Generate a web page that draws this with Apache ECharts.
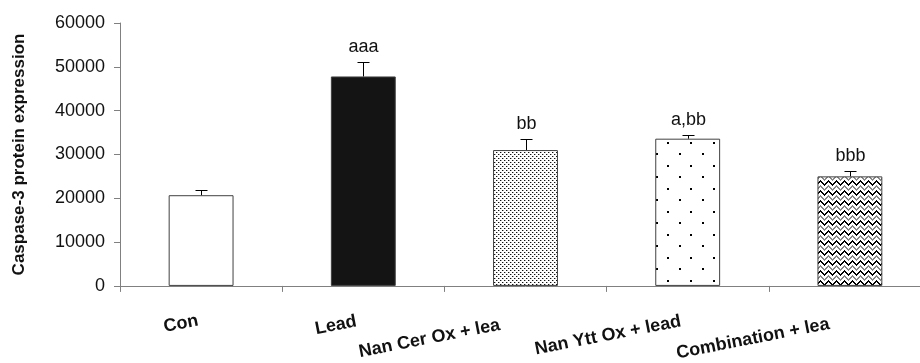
<!DOCTYPE html>
<html>
<head>
<meta charset="utf-8">
<script src="https://cdn.jsdelivr.net/npm/echarts@6/dist/echarts.min.js"></script>
<style>
  html, body { margin: 0; padding: 0; background: #fff; overflow: hidden; }
  /* the original axis runs a little past the right edge of the picture */
  #chart { width: 931px; height: 363px; }
</style>
</head>
<body>
<div id="chart"></div>
<script>
// values
const categories = ['Con', 'Lead', 'Nan Cer Ox + lea', 'Nan Ytt Ox + lead', 'Combination + lea'];
const means = [20700, 47800, 31000, 33600, 25000];
const upper = [22000, 51200, 33600, 34500, 26300];
const marks = ['', 'aaa', 'bb', 'a,bb', 'bbb'];
const yTicks = [0, 10000, 20000, 30000, 40000, 50000, 60000];

// label shift along the text so it sits like the original
const labelPad = [3, 7, 26, 7, 21];

function tile(w, h, draw) {
  const c = document.createElement('canvas');
  c.width = w; c.height = h;
  const ctx = c.getContext('2d');
  ctx.fillStyle = '#fff';
  ctx.fillRect(0, 0, w, h);
  draw(ctx);
  return c;
}

// fine dots
const fineDots = tile(4, 4, ctx => {
  ctx.fillStyle = '#111';
  ctx.fillRect(0, 0, 1, 1);
  ctx.fillRect(2, 2, 1, 1);
  ctx.fillStyle = '#aaa';
  ctx.fillRect(1, 0, 1, 1);
  ctx.fillRect(3, 2, 1, 1);
});

// sparse dots
const sparseDots = tile(23, 23, ctx => {
  ctx.fillStyle = '#000';
  ctx.fillRect(0, 4, 2, 2);
  ctx.fillRect(12, 15, 2, 2);
});

// zigzag weave, drawn pixel by pixel
const weave = tile(8, 10, ctx => {
  for (let x = 0; x < 8; x++) {
    const y = Math.abs(x - 4);
    ctx.fillStyle = '#000';
    ctx.fillRect(x, y, 1, 1);
    ctx.fillRect(x, (y + 1) % 10, 1, 1);
    ctx.fillStyle = '#888';
    ctx.fillRect(x, (y + 5) % 10, 1, 1);
    ctx.fillRect(x, (y + 6) % 10, 1, 1);
  }
});

const fills = [
  '#ffffff',
  '#141414',
  { image: fineDots, repeat: 'repeat' },
  { image: sparseDots, repeat: 'repeat' },
  { image: weave, repeat: 'repeat' }
];

const chart = echarts.init(document.getElementById('chart'), null, { renderer: 'canvas' });

const font = '"Liberation Sans", Arial, sans-serif';

chart.setOption({
  animation: false,
  grid: { left: 120, top: 23, right: 0, bottom: 77 },
  xAxis: {
    type: 'category',
    data: categories.map((c, i) => ({
      value: c,
      textStyle: { padding: [0, labelPad[i], 0, 0] }
    })),
    axisLine: { lineStyle: { color: '#808080', width: 1 } },
    axisTick: { show: true, length: 6, lineStyle: { color: '#808080' } },
    axisLabel: {
      interval: 0,
      rotate: 11,
      margin: 34,
      fontFamily: font,
      fontWeight: 'bold',
      fontSize: 18,
      color: '#111'
    }
  },
  yAxis: {
    type: 'value',
    min: yTicks[0],
    max: yTicks[yTicks.length - 1],
    interval: 10000,
    name: 'Caspase-3 protein expression',
    nameLocation: 'middle',
    nameGap: 92,
    nameTextStyle: { fontFamily: font, fontWeight: 'bold', fontSize: 17, color: '#111' },
    axisLine: { show: true, lineStyle: { color: '#808080', width: 1 } },
    axisTick: { show: true, length: 6, lineStyle: { color: '#808080' } },
    splitLine: { show: false },
    axisLabel: {
      margin: 15,
      fontFamily: font,
      fontSize: 18,
      color: '#111',
      formatter: v => String(v)
    }
  },
  series: [
    {
      type: 'bar',
      barWidth: '40%',
      data: means.map((v, i) => ({
        value: v,
        itemStyle: { color: fills[i], borderColor: '#404040', borderWidth: 1 }
      }))
    },
    {
      type: 'custom',
      z: 5,
      data: means.map((v, i) => [i, v, upper[i]]),
      renderItem: (params, api) => {
        const lo = api.coord([api.value(0), api.value(1)]);
        const hi = api.coord([api.value(0), api.value(2)]);
        const x = Math.round(hi[0]) + 0.5;
        const y = Math.round(hi[1]) + 0.5;
        const st = { stroke: '#000', lineWidth: 1 };
        return {
          type: 'group',
          children: [
            { type: 'line', shape: { x1: x, y1: lo[1], x2: x, y2: y }, style: st },
            { type: 'line', shape: { x1: x - 6, y1: y, x2: x + 6, y2: y }, style: st },
            {
              type: 'text',
              x: x,
              y: y - 6,
              style: {
                text: marks[params.dataIndex],
                fontFamily: font,
                fontSize: 18,
                fill: '#111',
                align: 'center',
                verticalAlign: 'bottom'
              }
            }
          ]
        };
      }
    }
  ]
});
</script>
</body>
</html>
